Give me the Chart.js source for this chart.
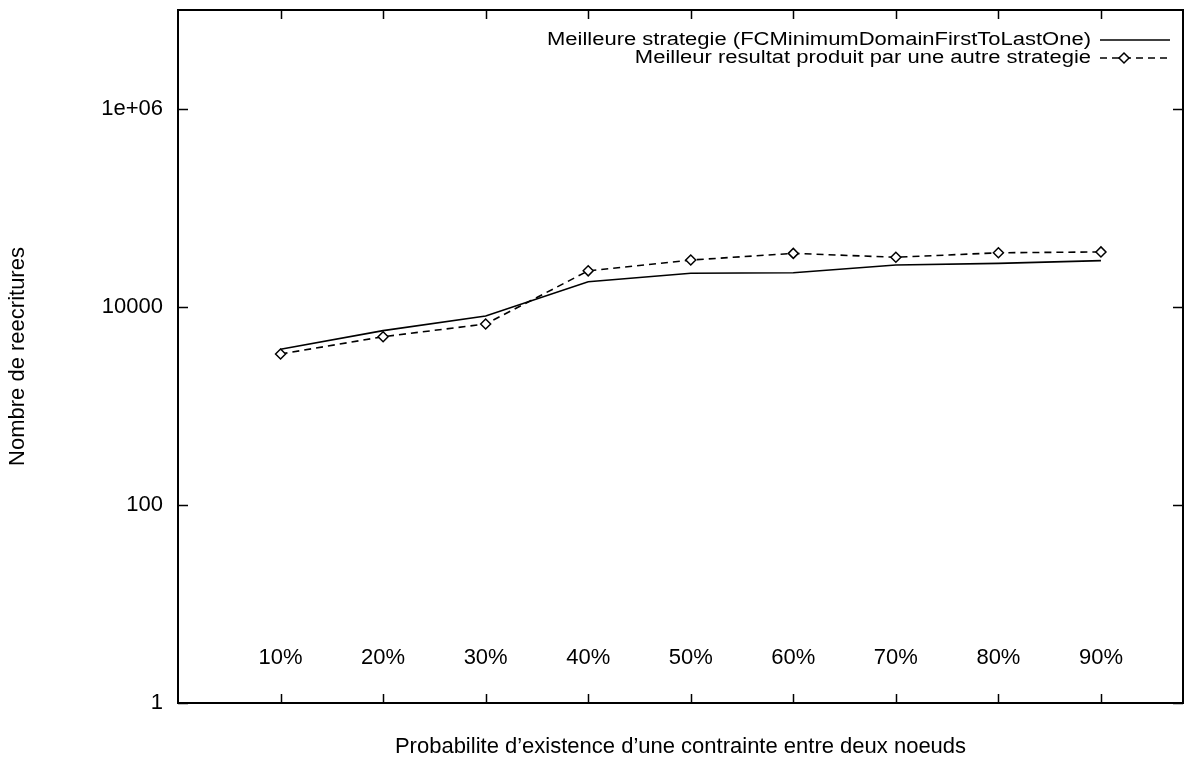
<!DOCTYPE html>
<html>
<head>
<meta charset="utf-8">
<script src="https://cdn.jsdelivr.net/npm/chart.js@4"></script>
<style>
  html, body { margin: 0; padding: 0; background: #fff; }
  #wrap { width: 1198px; height: 760px; }
</style>
</head>
<body>
<div id="wrap"><canvas id="chart" width="1198" height="760"></canvas></div>
<script>
// values
const categories = ['10%', '20%', '30%', '40%', '50%', '60%', '70%', '80%', '90%'];
const bestStrategy = [3740, 5770, 8110, 18000, 21900, 22200, 26600, 27600, 29400];
const bestOther = [3350, 5010, 6730, 23200, 29800, 34800, 31800, 35300, 36000];
const yTicks = [1, 100, 10000, 1000000];
const yTickLabels = ['1', '100', '10000', '1e+06'];

const FONT = '"Liberation Sans", Arial, Helvetica, sans-serif';
const FONT_SIZE = 22;

const toPoints = (values) => values.map((v, i) => ({ x: i + 1, y: v }));

// frame, inward ticks, in-plot category labels and gnuplot-like key
const gnuplotFrame = {
  id: 'gnuplotFrame',
  afterDraw(chart) {
    const { ctx, chartArea: a, scales } = chart;
    const x = scales.x;
    const y = scales.y;
    ctx.save();
    ctx.strokeStyle = '#000';
    ctx.lineWidth = 2;
    ctx.strokeRect(a.left, a.top, a.right - a.left, a.bottom - a.top);

    ctx.lineWidth = 1.5;
    ctx.beginPath();
    yTicks.forEach((v) => {
      const py = Math.round(y.getPixelForValue(v)) + 0.5;
      ctx.moveTo(a.left, py); ctx.lineTo(a.left + 10, py);
      ctx.moveTo(a.right, py); ctx.lineTo(a.right - 10, py);
    });
    categories.forEach((c, i) => {
      const px = Math.round(x.getPixelForValue(i + 1)) + 0.5;
      ctx.moveTo(px, a.bottom); ctx.lineTo(px, a.bottom - 9);
      ctx.moveTo(px, a.top); ctx.lineTo(px, a.top + 9);
    });
    ctx.stroke();

    ctx.fillStyle = '#000';
    ctx.font = FONT_SIZE + 'px ' + FONT;
    ctx.textAlign = 'center';
    ctx.textBaseline = 'middle';
    categories.forEach((c, i) => {
      ctx.fillText(c, x.getPixelForValue(i + 1), a.bottom - 45);
    });

    // key, top right (text a bit squashed vertically like the scan)
    const textRight = a.right - 92;
    const s0 = a.right - 83;
    const s1 = a.right - 13;
    chart.data.datasets.forEach((ds, i) => {
      const ly = a.top + 30 + i * 18;
      ctx.save();
      ctx.translate(textRight, ly);
      ctx.scale(1, 0.82);
      ctx.textAlign = 'right';
      ctx.fillText(ds.label, 0, 0);
      ctx.restore();
      ctx.beginPath();
      ctx.lineWidth = ds.borderWidth;
      ctx.setLineDash(ds.borderDash || []);
      ctx.moveTo(s0, ly); ctx.lineTo(s1, ly);
      ctx.stroke();
      ctx.setLineDash([]);
      if (ds.pointRadius > 0) {
        const cx = s0 + 24;
        const r = ds.pointRadius;
        ctx.beginPath();
        ctx.moveTo(cx, ly - r); ctx.lineTo(cx + r, ly);
        ctx.lineTo(cx, ly + r); ctx.lineTo(cx - r, ly);
        ctx.closePath();
        ctx.fillStyle = '#fff';
        ctx.fill();
        ctx.lineWidth = ds.pointBorderWidth;
        ctx.stroke();
        ctx.fillStyle = '#000';
      }
    });
    ctx.restore();
  },
};

new Chart(document.getElementById('chart'), {
  type: 'line',
  data: {
    datasets: [
      {
        label: 'Meilleure strategie (FCMinimumDomainFirstToLastOne)',
        data: toPoints(bestStrategy),
        borderColor: '#000',
        borderWidth: 1.6,
        pointRadius: 0,
        tension: 0,
      },
      {
        label: 'Meilleur resultat produit par une autre strategie',
        data: toPoints(bestOther),
        borderColor: '#000',
        borderWidth: 1.6,
        borderDash: [7, 5],
        pointStyle: 'rectRot',
        pointRadius: 5,
        pointBorderWidth: 1.5,
        pointBackgroundColor: '#fff',
        pointBorderColor: '#000',
        tension: 0,
      },
    ],
  },
  options: {
    responsive: false,
    animation: false,
    layout: { padding: { left: 0, top: 10, right: 15, bottom: 0 } },
    plugins: {
      legend: { display: false },
      tooltip: { enabled: false },
    },
    scales: {
      x: {
        type: 'linear',
        min: 0,
        max: 9.8,
        grid: { display: false },
        border: { display: false },
        ticks: { display: false },
        title: {
          display: true,
          text: 'Probabilite d\u2019existence d\u2019une contrainte entre deux noeuds',
          color: '#000',
          font: { family: FONT, size: FONT_SIZE },
          padding: { top: 0, bottom: 0 },
        },
        afterFit(scale) {
          scale.height = 57;
          scale.paddingLeft = 0;
          scale.paddingRight = 0;
        },
      },
      y: {
        type: 'logarithmic',
        min: 1,
        max: 10000000,
        grid: { display: false },
        border: { display: false },
        afterBuildTicks(scale) {
          scale.ticks = yTicks.map((v) => ({ value: v }));
        },
        ticks: {
          color: '#000',
          font: { family: FONT, size: FONT_SIZE },
          padding: 7,
          callback: (v) => yTickLabels[yTicks.indexOf(v)],
        },
        title: {
          display: true,
          text: 'Nombre de reecritures',
          color: '#000',
          font: { family: FONT, size: FONT_SIZE },
          padding: { top: 5, bottom: 0 },
        },
        afterFit(scale) {
          scale.width = 178;
          scale.paddingTop = 0;
          scale.paddingBottom = 0;
        },
      },
    },
  },
  plugins: [gnuplotFrame],
});
</script>
</body>
</html>
